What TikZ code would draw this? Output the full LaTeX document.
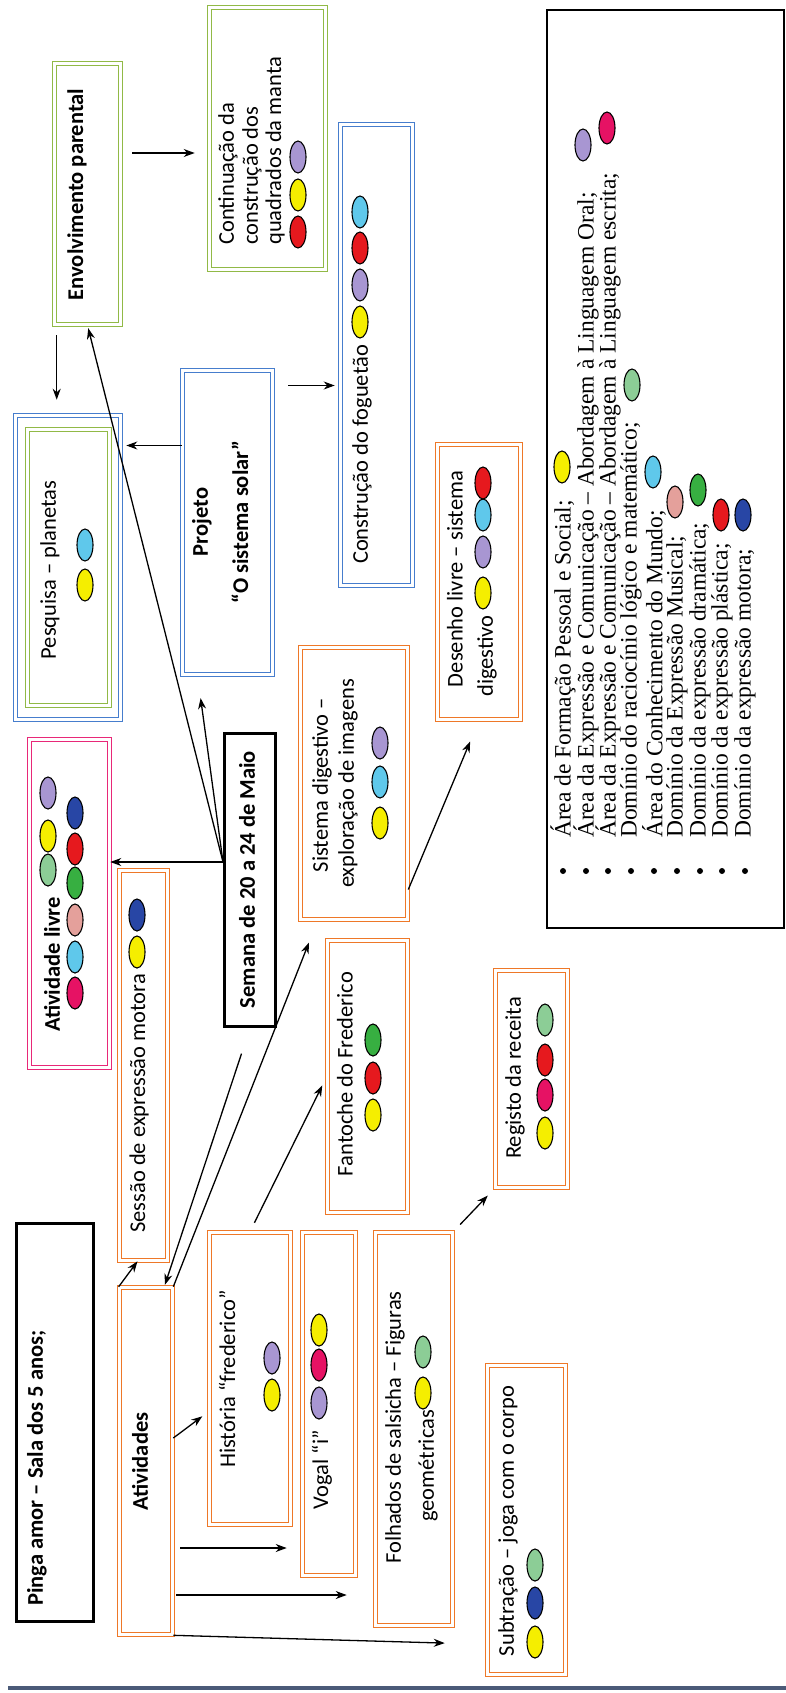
\documentclass[tikz,border=0pt]{standalone}
\usepackage{fontspec}
\setmainfont{Carlito}
\newfontfamily\legfont{Liberation Serif}
\usetikzlibrary{shapes.geometric,arrows.meta}

\definecolor{laranja}{RGB}{238,120,40}
\definecolor{rosacx}{RGB}{232,40,120}
\definecolor{azulcx}{RGB}{70,125,205}
\definecolor{verdecx}{RGB}{145,185,70}
\definecolor{amar}{RGB}{245,238,0}
\definecolor{lila}{RGB}{168,150,210}
\definecolor{rosa}{RGB}{230,18,100}
\definecolor{verdecl}{RGB}{140,205,150}
\definecolor{ciano}{RGB}{95,200,235}
\definecolor{salmao}{RGB}{228,160,155}
\definecolor{verde}{RGB}{55,175,65}
\definecolor{verm}{RGB}{230,25,30}
\definecolor{azul}{RGB}{40,70,165}
\definecolor{rodape}{RGB}{75,90,120}

\tikzset{
	caixa/.style={draw=#1, double=white, double distance=2.2pt, line width=1.6pt, rotate=90},
	caixap/.style={draw=black, line width=3pt, rotate=90},
	txt/.style={rotate=90, inner sep=0pt, font=\fontsize{22.5}{26}\selectfont},
	txtb/.style={rotate=90, inner sep=0pt, font=\fontsize{22.5}{26}\selectfont\bfseries},
	leg/.style={rotate=90, anchor=west, inner sep=0pt, font=\legfont\fontsize{23.5}{26}\selectfont},
	ball/.style={ellipse, draw=black, line width=1.1pt, minimum width=16pt, minimum height=32pt, inner sep=0pt},
	seta/.style={-{Stealth[length=11pt,width=8pt]}, line width=1.3pt},
}

\begin{document}
\begin{tikzpicture}[x=1pt,y=-1pt]
\fill[white] (0,0) rectangle (786,1693);
\useasboundingbox (0,0) rectangle (786,1693);

%Titulo
\node [caixap, minimum width=398pt, minimum height=77pt] (pinga) at (55,1422.5) {};
\node [txtb] (pingatxt) at (37,1468) {Pinga amor – Sala dos 5 anos;};

%Atividades
\node [caixa=laranja, minimum width=347pt, minimum height=53pt] (ativ) at (146,1461) {};
\node [txtb] (ativtxt) at (140,1461.5) {Atividades};

\node [caixa=laranja, minimum width=390pt, minimum height=48pt] (sessao) at (143.5,1065.5) {};
\node [txt] (sessaotxt) at (139,1103.5) {Sessão de expressão motora};
\foreach \x/\y/\c [count=\i] in {137/952/amar,137/915/azul}
	\node [ball, fill=\c] (bs\i) at (\x,\y) {};

\node [caixa=rosacx, minimum width=328pt, minimum height=80pt] (livre) at (69.5,903.5) {};
\node [txtb] (livretxt) at (52,964.5) {Atividade livre};
\foreach \x/\y/\c [count=\i] in {48/870/verdecl,48/836/amar,48/793/lila,75/993/rosa,75/957/ciano,75/920/salmao,75/883/verde,75/849/verm,75/813/azul}
	\node [ball, fill=\c] (bl\i) at (\x,\y) {};

%Semana
\node [caixap, minimum width=293pt, minimum height=51pt] (semana) at (250,880) {};
\node [txtb] (sematxt) at (247,879.5) {Semana de 20 a 24 de Maio};

%Projeto
\node [caixa=azulcx, minimum width=304pt, minimum height=105pt] (pesqout) at (68,567.5) {};
\node [caixa=verdecx, minimum width=276pt, minimum height=82pt] (pesq) at (68.5,567.5) {};
\node [txt] (pesqtxt) at (50,570) {Pesquisa – planetas};
\foreach \x/\y/\c [count=\i] in {85/585/amar,85/545/ciano}
	\node [ball, fill=\c] (bp\i) at (\x,\y) {};

\node [caixa=azulcx, minimum width=304pt, minimum height=90pt] (proj) at (227.5,522.5) {};
\node [txtb] (projtxt) at (202,522) {Projeto};
\node [txtb] (projtxt2) at (240,522) {“O sistema solar”};

\node [caixa=azulcx, minimum width=461pt, minimum height=72pt] (fogu) at (376.5,355) {};
\node [txt] (fogutxt) at (362,454.5) {Construção do foguetão};
\foreach \x/\y/\c [count=\i] in {360/322/amar,360/285/lila,360/248/verm,360/212/ciano}
	\node [ball, fill=\c] (bf\i) at (\x,\y) {};

%Envolvimento parental
\node [caixa=verdecx, minimum width=261pt, minimum height=66pt] (envolv) at (87.5,194) {};
\node [txtb] (envtxt) at (77,194.5) {Envolvimento parental};

\node [caixa=verdecx, minimum width=262pt, minimum height=116pt] (contin) at (267.5,138.5) {};
\node [txt, anchor=west] (conttxt1) at (228,245) {Continuação da};
\node [txt, anchor=west] (conttxt2) at (252,245) {construção dos};
\node [txt, anchor=west] (conttxt3) at (275,245) {quadrados da manta};
\foreach \x/\y/\c [count=\i] in {298/232/verm,298/195/amar,298/157/lila}
	\node [ball, fill=\c] (bc\i) at (\x,\y) {};

%Sistema digestivo
\node [caixa=laranja, minimum width=272pt, minimum height=107pt] (sisdig) at (354,783.5) {};
\node [txt] (sistxt1) at (322,785) {Sistema digestivo –};
\node [txt] (sistxt2) at (348,783.5) {exploração de imagens};
\foreach \x/\y/\c [count=\i] in {380/823/amar,380/782/ciano,380/743/lila}
	\node [ball, fill=\c] (bd\i) at (\x,\y) {};

\node [caixa=laranja, minimum width=275pt, minimum height=83pt] (desen) at (479,582) {};
\node [txt] (destxt1) at (455,579) {Desenho livre – sistema};
\node [txt, anchor=west] (destxt2) at (487,697) {digestivo};
\foreach \x/\y/\c [count=\i] in {483/593/amar,483/552/lila,483/515/ciano,483/483/verm}
	\node [ball, fill=\c] (be\i) at (\x,\y) {};

%Frederico
\node [caixa=laranja, minimum width=272pt, minimum height=80pt] (fant) at (367.5,1076.5) {};
\node [txt] (fanttxt) at (345,1074) {Fantoche do Frederico};
\foreach \x/\y/\c [count=\i] in {373/1115/amar,373/1078/verm,373/1040/verde}
	\node [ball, fill=\c] (bt\i) at (\x,\y) {};

\node [caixa=laranja, minimum width=292pt, minimum height=81pt] (hist) at (250,1378.5) {};
\node [txt] (histtxt) at (227,1379) {História “frederico”};
\foreach \x/\y/\c [count=\i] in {272/1395/amar,272/1358/lila}
	\node [ball, fill=\c] (bh\i) at (\x,\y) {};

\node [caixa=laranja, minimum width=343pt, minimum height=53pt] (vogal) at (329,1404) {};
\node [txt] (vogaltxt) at (322,1469.5) {Vogal “i”};
\foreach \x/\y/\c [count=\i] in {319/1403/lila,319/1365/rosa,319/1330/amar}
	\node [ball, fill=\c] (bv\i) at (\x,\y) {};

\node [caixa=laranja, minimum width=393pt, minimum height=77pt] (folh) at (414,1429) {};
\node [txt] (folhtxt1) at (395,1427.5) {Folhados de salsicha – Figuras};
\node [txt] (folhtxt2) at (428,1466) {geométricas};
\foreach \x/\y/\c [count=\i] in {423/1393/amar,423/1352/verdecl}
	\node [ball, fill=\c] (bo\i) at (\x,\y) {};

\node [caixa=laranja, minimum width=217pt, minimum height=72pt] (regis) at (531.5,1079) {};
\node [txt] (registxt) at (515,1078) {Registo da receita};
\foreach \x/\y/\c [count=\i] in {545/1133/amar,545/1095/rosa,545/1060/verm,545/1020/verdecl}
	\node [ball, fill=\c] (br\i) at (\x,\y) {};

\node [caixa=laranja, minimum width=309pt, minimum height=78pt] (subtr) at (526.5,1520) {};
\node [txt] (subtrtxt) at (508,1521) {Subtração – joga com o corpo};
\foreach \x/\y/\c [count=\i] in {535/1642/amar,535/1603/azul,535/1565/verdecl}
	\node [ball, fill=\c] (bu\i) at (\x,\y) {};

%Legenda
\node [draw, line width=2pt, rotate=90, minimum width=918pt, minimum height=237pt] (legenda) at (665.5,469) {};
\foreach \x/\t [count=\i] in {563/{Área de Formação Pessoal e Social;},
	586/{Área da Expressão e Comunicação – Abordagem à Linguagem Oral;},
	608/{Área da Expressão e Comunicação – Abordagem à Linguagem escrita;},
	631/{Domínio do raciocínio lógico e matemático;},
	654/{Área do Conhecimento do Mundo;},
	677/{Domínio da Expressão Musical;},
	700/{Domínio da expressão dramática;},
	722/{Domínio da expressão plástica;},
	745/{Domínio da expressão motora;}}{
	\node [leg] (leg\i) at (\x,838) {\t};
	\node [circle, fill=black, minimum size=6pt, inner sep=0pt] (pt\i) at (\x,871) {};
}
\foreach \x/\y/\c [count=\i] in {562/467/amar,583/145/lila,607/128/rosa,632/385/verdecl,653/472/ciano,675/502/salmao,698/490/verde,721/515/verm,743/515/azul}
	\node [ball, fill=\c] (bg\i) at (\x,\y) {};

%Setas
\coordinate (s0) at ([yshift=18pt]semana.north);
\draw[seta] (s0) -- (s0 -| livre.south);
\draw[seta, shorten >=23pt] (s0) -- ([xshift=-30pt]proj.west);
\draw[seta, shorten >=3pt] (s0) -- (envolv.west);
\draw[seta, shorten <=27pt, shorten >=2pt] (semana.west) -- ([xshift=-9pt]ativ.south east);

\coordinate (p0) at ([yshift=77pt]proj.north);
\draw[seta, shorten >=5pt] (p0) -- (p0 -| pesqout.south);
\coordinate (p1) at ([yshift=137pt]proj.south);
\draw[seta, shorten <=15pt, shorten >=5pt] (p1) -- (p1 -| fogu.north);

\coordinate (e0) at ([xshift=3pt]envolv.north west);
\draw[seta, shorten <=10pt, shorten >=15pt] (e0) -- (e0 |- pesqout.east);
\coordinate (e1) at ([yshift=41pt]envolv.south);
\draw[seta, shorten <=11pt, shorten >=14pt] (e1) -- (e1 -| contin.north);

\draw[seta] (ativ.north east) -- ([xshift=-6pt]sessao.west);
\draw[seta, shorten >=24pt] (ativ.south east) -- ([xshift=18pt]sisdig.north west);
\draw[seta, shorten <=10pt, shorten >=10pt] (hist.east) -- (fant.north);
\draw[seta, shorten >=8pt] ([yshift=23pt]ativ.south) -- ([yshift=-33pt]hist.north);
\coordinate (a1) at ([yshift=-87pt]ativ.south);
\draw[seta, shorten <=7pt, shorten >=15pt] (a1) -- (a1 -| vogal.north);
\coordinate (a2) at ([yshift=-134pt]ativ.south);
\draw[seta, shorten <=3pt, shorten >=28pt] (a2) -- (a2 -| folh.north);
\coordinate (a3) at ([yshift=-9pt]ativ.south west);
\draw[seta, shorten >=42pt] (ativ.south west) -- (a3 -| subtr.north);
\draw[seta, shorten <=10pt, shorten >=10pt] (folh.south east) -- (regis.north west);
\coordinate (d0) at ([yshift=-106pt]sisdig.south);
\draw[seta, shorten >=23pt] (d0) -- (desen.west);

\draw[line width=4pt, rodape] (8,1688) -- (786,1688);

\end{tikzpicture}
\end{document}
